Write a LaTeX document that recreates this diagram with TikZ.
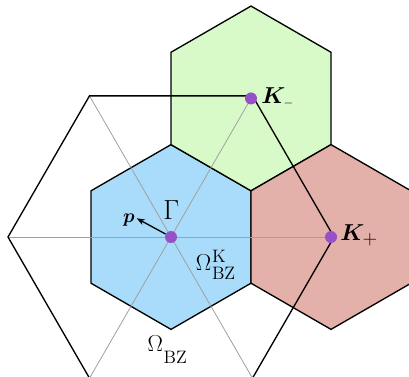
\documentclass[tikz,border=0pt]{standalone}
\usepackage{bm}
\usetikzlibrary{calc,arrows.meta}
\definecolor{bzblue}{HTML}{A8DCFA}
\definecolor{bzgreen}{HTML}{D8FAC8}
\definecolor{bzred}{HTML}{E4B0AA}
\definecolor{dotpurple}{HTML}{9650C8}
\definecolor{axisgray}{HTML}{A0A0A0}
\newcommand{\subtxt}[1]{\hbox{\fontsize{13.5}{15}\selectfont #1}}
\newcommand{\scrfont}{\fontsize{13.5}{15}\selectfont}
\tikzset{
  hexline/.style={draw=black, line width=1pt, line join=miter},
  bigline/.style={draw=black, line width=1pt, line join=miter},
  axisline/.style={draw=axisgray, line width=0.6pt},
  kdot/.style={circle, fill=dotpurple, inner sep=0pt, minimum size=9pt},
  biglabel/.style={inner sep=0pt, font=\LARGE},
  gammalabel/.style={inner sep=0pt, font=\huge},
  plabel/.style={inner sep=0pt, font=\Large},
  momentum/.style={-{Stealth[length=6pt,width=4.5pt]}, line width=1pt},
}
\begin{document}
\begin{tikzpicture}[x=0.75pt,y=-0.75pt]
\useasboundingbox (0,0) rectangle (409,376);
\clip (0,0) rectangle (409,376);
\def\hr{92.38}
\def\HR{163}
\coordinate (G) at (171,237);
\coordinate (Km) at ($(G)+(80,-138.56)$);
\coordinate (Kp) at ($(G)+(160,0)$);
% small hexagons
\foreach \c/\col in {G/bzblue,Km/bzgreen,Kp/bzred}
  \path[hexline,fill=\col] ($(\c)+(30:\hr)$) -- ($(\c)+(90:\hr)$) -- ($(\c)+(150:\hr)$)
     -- ($(\c)+(210:\hr)$) -- ($(\c)+(270:\hr)$) -- ($(\c)+(330:\hr)$) -- cycle;
% gray axes
\draw[axisline] ($(G)+(0:\HR)$) -- ($(G)+(180:\HR)$);
\draw[axisline] ($(G)+(60:\HR)$) -- ($(G)+(240:\HR)$);
\draw[axisline] ($(G)+(120:\HR)$) -- ($(G)+(300:\HR)$);
% big hexagon
\draw[bigline] ($(G)+(0:\HR)$) -- ($(G)+(60:\HR)$) -- ($(G)+(120:\HR)$)
   -- ($(G)+(180:\HR)$) -- ($(G)+(240:\HR)$) -- ($(G)+(300:\HR)$) -- cycle;
% dots
\node[kdot] (dG) at (G) {};
\node[kdot] (dKm) at (Km) {};
\node[kdot] (dKp) at (Kp) {};
% momentum arrow
\coordinate (ptip) at (136.7,218.3);
\draw[momentum] (dG) -- (ptip);
% labels
\node[gammalabel] (lG) at (171.3,209.7) {$\Gamma$};
\node[plabel] (lp) at (128.8,220.3) {$\bm{p}$};
\node[biglabel, anchor=base west] (lOK) at (195.7,270)
  {$\Omega$\kern0.5pt\rlap{\raisebox{5.5pt}{\scrfont K}}\raisebox{-6.75pt}{\scrfont BZ}};
\node[biglabel, anchor=base west] (lO) at (147.3,351.7)
  {$\Omega$\kern0.5pt\raisebox{-8.5pt}{\scrfont BZ}};
\node[biglabel, anchor=base west] (lKm) at (261,103.5) {$\bm{K}_{\hbox{\fontsize{9}{10}\selectfont$-$}}$};
\node[biglabel, anchor=base west] (lKp) at (340,240.7) {$\bm{K}_{\subtxt{$+$}}$};
\end{tikzpicture}
\end{document}
